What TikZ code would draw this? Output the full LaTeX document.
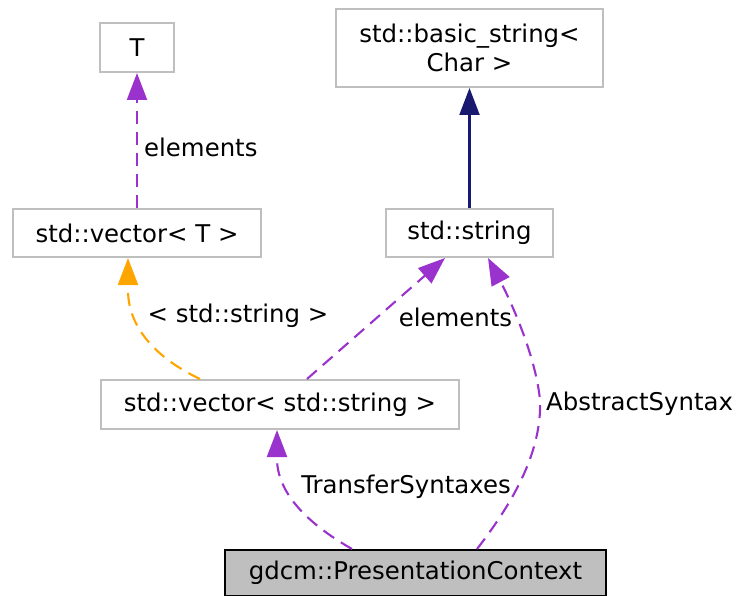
\documentclass[tikz,border=0pt]{standalone}
\usepackage{fontspec}
\setmainfont{DejaVu Sans}
\usepackage{tikz}
\usetikzlibrary{arrows.meta, positioning, calc}
\definecolor{boxgray}{HTML}{BFBFBF}
\definecolor{usecol}{HTML}{9A32CD}
\definecolor{inhcol}{HTML}{191970}
\definecolor{tmplcol}{HTML}{FFA500}

\begin{document}
\begin{tikzpicture}[
  x=1pt, y=-1pt,
  cls/.style={rectangle, draw=boxgray, line width=2pt, inner sep=0pt, align=center},
  lbl/.style={inner sep=0pt},
  usage/.style={draw=usecol, line width=2.1pt, dash pattern=on 13pt off 8pt,
                -{Triangle[length=27pt, width=20pt]}},
  tmpl/.style={usage, draw=tmplcol},
  inherit/.style={draw=inhcol, line width=2.1pt,
                  -{Triangle[length=27pt, width=20pt]}},
  font=\fontsize{24.4}{29}\selectfont
]
\useasboundingbox (0,0) rectangle (736,596);

\node[cls, minimum width=74pt, minimum height=49pt] (T) at (137,47.5) {T};
\node[cls, minimum width=267pt, minimum height=78pt] (basicstr) at (469.5,48)
      {std::basic\_string<\\Char >};
\node[cls, minimum width=248pt, minimum height=48pt] (vecT) at (137,233) {std::vector< T >};
\node[cls, minimum width=167pt, minimum height=48pt] (str) at (469.5,233) {std::string};
\node[cls, minimum width=358pt, minimum height=49pt] (vecstr) at (280,404.5)
      {std::vector< std::string >};
\node[cls, draw=black, fill=boxgray, minimum width=381pt, minimum height=46pt] (ctx)
      at (415.5,573) {gdcm::PresentationContext};

\draw[usage] (vecT.north) -- (T.south);
\draw[inherit] (str.north) -- (basicstr.south);
\draw[tmpl] ([xshift=-80pt]vecstr.north) .. controls (160,360) and (128,330) .. (128,290)
      -- ([xshift=-9pt]vecT.south);
\draw[usage] ([xshift=27pt]vecstr.north) -- ([xshift=-24.5pt]str.south);
\draw[usage] ([xshift=-63.5pt]ctx.north) .. controls (310,525) and (278,495) .. (277,460)
      -- ([xshift=-3pt]vecstr.south);
\draw[usage] ([xshift=61.5pt]ctx.north) .. controls (515,500) and (542,450) .. (540,400)
      .. controls (535,350) and (505,290) .. ([xshift=18.5pt]str.south);

\node[lbl, anchor=west] (lblelemT) at (144,147) {elements};
\node[lbl] (lbltmpl) at (238,316) {< std::string >};
\node[lbl] (lblelem) at (455.5,317) {elements};
\node[lbl] (lbltransfer) at (406,487) {TransferSyntaxes};
\node[lbl, anchor=west] (lblabstract) at (546,404) {AbstractSyntax};
\end{tikzpicture}
\end{document}
